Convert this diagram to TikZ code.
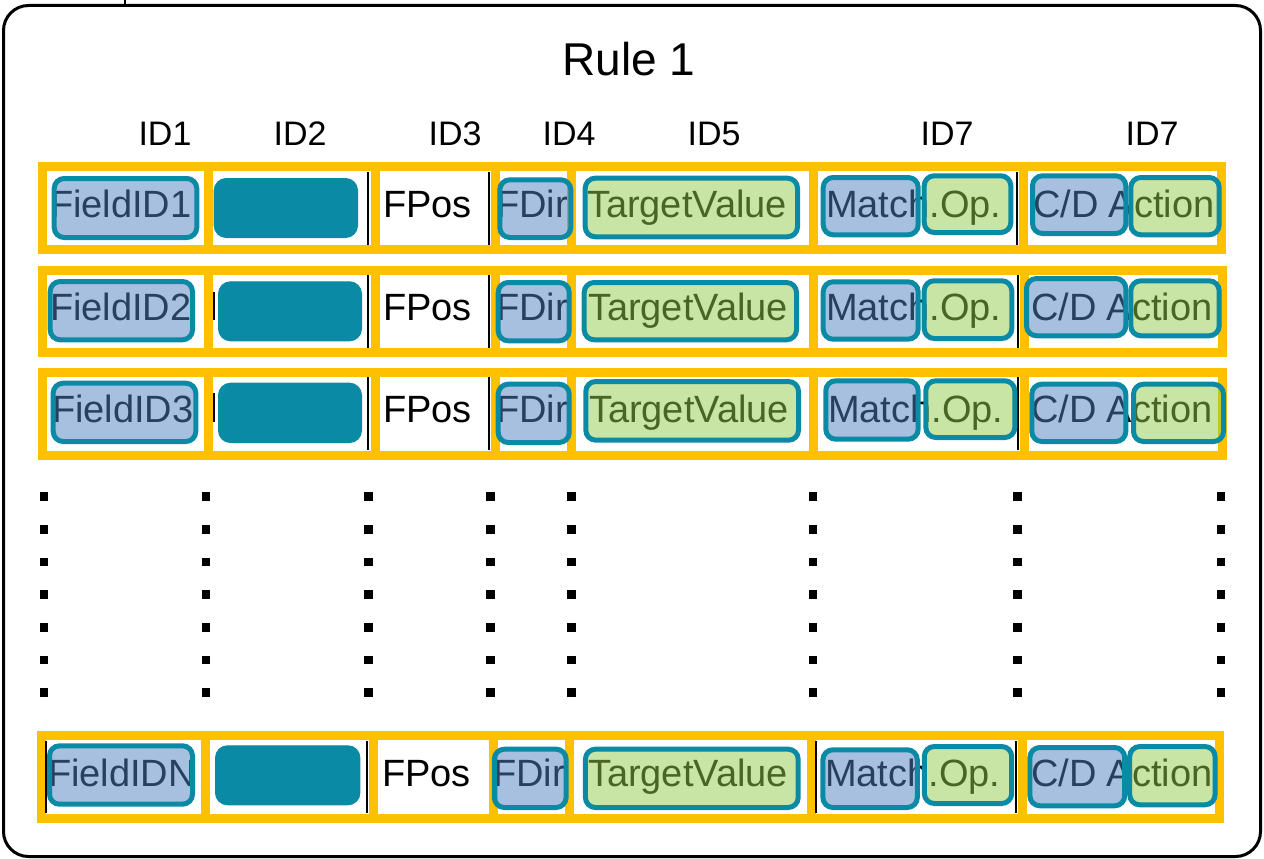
\documentclass[tikz,border=0pt]{standalone}
\usepackage{fontspec}
\setmainfont{Liberation Sans}
\definecolor{yelc}{HTML}{FFC000}
\definecolor{tealc}{HTML}{0A8AA5}
\definecolor{blueF}{HTML}{5181BF}
\definecolor{greenF}{HTML}{91CB4D}
\tikzset{
  frame/.style={draw=black, line width=3pt, rounded corners=25pt},
  yel/.style={draw=yelc, line width=9pt},
  blk/.style={draw=black, line width=2pt},
  bbox/.style={rectangle, rounded corners=10pt, draw=tealc, line width=5pt, fill=blueF, fill opacity=0.5, draw opacity=1, inner sep=0pt, outer sep=0pt},
  gbox/.style={bbox, fill=greenF},
  tbox/.style={rectangle, rounded corners=12pt, draw=tealc, fill=tealc, line width=1pt, inner sep=0pt, outer sep=0pt},
  txt/.style={font=\fontsize{38}{40}\selectfont, inner sep=0pt, outer sep=0pt, anchor=base west, text=black},
  hdr/.style={font=\fontsize{34}{36}\selectfont, inner sep=0pt, outer sep=0pt, anchor=base, text=black},
  ttl/.style={font=\fontsize{46}{48}\selectfont, inner sep=0pt, outer sep=0pt, anchor=base, text=black},
  dotsq/.style={fill=black},
}
\newcommand\bx[6]{\node[#1, minimum width={(#5)-(#3)-5}, minimum height={(#6)-(#4)-5}] (#2) at ({((#3)+(#5))/2},{((#4)+(#6))/2}) {};}
\begin{document}
\begin{tikzpicture}[x=1pt,y=-1pt]
\useasboundingbox (0,0) rectangle (1264,859);
% outer frame
\draw[frame] (3.5,5.5) rectangle (1260.5,856.5);
\draw[black, line width=2pt] (125,0) -- (125,5.5);
% titles
\node[ttl] (title) at (629,76) {Rule 1};
\node[hdr] (h1) at (165,145) {ID1};
\node[hdr] (h2) at (300,145) {ID2};
\node[hdr] (h3) at (455,145) {ID3};
\node[hdr] (h4) at (569,145) {ID4};
\node[hdr] (h5) at (714,145) {ID5};
\node[hdr] (h6) at (947,145) {ID7};
\node[hdr] (h7) at (1152,145) {ID7};
% yellow grids
\draw[yel] (42,166.5) rectangle (1221,249);
\foreach \x in {208,375,495,571,813,1023} \draw[yel] (\x,166.5) -- (\x,249);
\draw[yel] (42,270) rectangle (1222,352.5);
\foreach \x in {208,375,495,571,813,1024} \draw[yel] (\x,270) -- (\x,352.5);
\draw[yel] (42,372.3) rectangle (1222,455);
\foreach \x in {208,375,495,571,813,1024} \draw[yel] (\x,372.3) -- (\x,455);
\draw[yel] (41,735.7) rectangle (1219,818);
\foreach \x in {205.5,373,493,569.6,811.5,1022} \draw[yel] (\x,735.7) -- (\x,818);
% thin black cell borders
\foreach \x in {368,489,1016.7} \draw[blk] (\x,172) -- (\x,244.5);
\foreach \x in {368,489,1018} \draw[blk] (\x,275) -- (\x,348);
\foreach \x in {368,489,1018} \draw[blk] (\x,377) -- (\x,450);
\draw[blk] (214,292) -- (214,320);
\draw[blk] (214,393) -- (214,422);
\foreach \x in {46,367,816,1016} \draw[blk] (\x,741) -- (\x,813);
% texts row 1
\node[txt] (a1) at (50,217.5) {FieldID1};
\node[txt] (a3) at (383,217.5) {FPos};
\node[txt] (a4) at (496,217.5) {FDir};
\node[txt] (a5) at (587,217.5) {TargetValue};
\node[txt] (a6) at (826,217.5) {Match.Op.};
\node[txt] (a7) at (1033,217.5) {C/D Action};
% texts row 2
\node[txt] (b1) at (50,320.7) {FieldID2};
\node[txt] (b3) at (383,320.7) {FPos};
\node[txt] (b4) at (496,320.7) {FDir};
\node[txt] (b5) at (588,320.7) {TargetValue};
\node[txt] (b6) at (826,320.7) {Match.Op.};
\node[txt] (b7) at (1031,320.7) {C/D Action};
% texts row 3
\node[txt] (c1) at (52,422.5) {FieldID3};
\node[txt] (c3) at (383,422.5) {FPos};
\node[txt] (c4) at (496,422.5) {FDir};
\node[txt] (c5) at (589,422.5) {TargetValue};
\node[txt] (c6) at (828,422.5) {Match.Op.};
\node[txt] (c7) at (1031,422.5) {C/D Action};
% texts last row
\node[txt] (d1) at (48,786) {FieldIDN};
\node[txt] (d3) at (382,786) {FPos};
\node[txt] (d4) at (493,786) {FDir};
\node[txt] (d5) at (588,786) {TargetValue};
\node[txt] (d6) at (825,786) {Match.Op.};
\node[txt] (d7) at (1031,786) {C/D Action};
% boxes row 1
\bx{bbox}{A1}{51.7}{176}{199.3}{240}
\bx{tbox}{A2}{211.7}{176}{360}{240}
\bx{bbox}{A4}{497.3}{177.3}{573.3}{240}
\bx{gbox}{A5}{582.7}{175.7}{800}{239.3}
\bx{bbox}{A6}{820.7}{175}{920.7}{237.3}
\bx{gbox}{A7}{921.7}{173.3}{1013.3}{235}
\bx{bbox}{A8}{1030}{173.3}{1128.3}{236}
\bx{gbox}{A9}{1128.3}{175}{1221.7}{237.3}
% boxes row 2
\bx{bbox}{B1}{47.7}{279}{195}{342.3}
\bx{tbox}{B2}{216}{279.3}{364}{343.3}
\bx{bbox}{B4}{495.7}{280}{571.7}{343.3}
\bx{gbox}{B5}{581.7}{280}{799}{342.3}
\bx{bbox}{B6}{820.7}{279.3}{920.7}{341.7}
\bx{gbox}{B7}{921.7}{278.3}{1014.3}{341}
\bx{bbox}{B8}{1024}{276}{1128.3}{338.3}
\bx{gbox}{B9}{1128.3}{278.3}{1221.7}{338.3}
% boxes row 3
\bx{bbox}{C1}{50.7}{380.7}{198.3}{444}
\bx{tbox}{C2}{216}{380.7}{364}{445}
\bx{bbox}{C4}{495.7}{381.7}{571.7}{445}
\bx{gbox}{C5}{583.3}{379}{801}{442.7}
\bx{bbox}{C6}{823.3}{378.3}{920.7}{441.7}
\bx{gbox}{C7}{923.3}{378.3}{1017.3}{440}
\bx{bbox}{C8}{1029.3}{381.7}{1128.3}{444}
\bx{gbox}{C9}{1131}{381.7}{1226}{444}
% boxes last row
\bx{bbox}{D1}{47}{743.3}{195}{806.7}
\bx{tbox}{D2}{213}{743.3}{362.4}{807.3}
\bx{bbox}{D4}{491.8}{746.7}{568.6}{810}
\bx{gbox}{D5}{582.9}{746.7}{800.7}{810}
\bx{bbox}{D6}{820.4}{747.3}{919.8}{810}
\bx{gbox}{D7}{921.8}{744}{1014.2}{806}
\bx{bbox}{D8}{1027.4}{745}{1127.2}{808.3}
\bx{gbox}{D9}{1127.2}{744}{1217.5}{807.3}
% vertical dots
\foreach \x in {44,206,368.6,490.6,571.4,813,1017.5,1220.8}
  \foreach \y in {496.7,529.3,562,594.7,627.3,660,692.7}
    \fill[dotsq] (\x-4.25,\y-4.25) rectangle (\x+4.25,\y+4.25);
\end{tikzpicture}
\end{document}
